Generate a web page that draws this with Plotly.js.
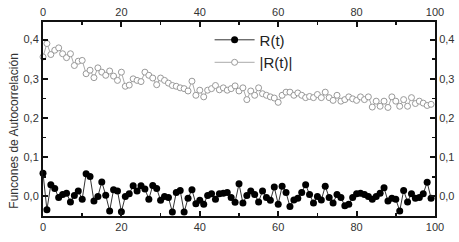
<!DOCTYPE html>
<html>
<head>
<meta charset="utf-8">
<script src="https://cdn.plot.ly/plotly-3.0.1.min.js"></script>
<style>html,body{margin:0;padding:0;background:#fff;}#chart{width:459px;height:242px;}</style>
</head>
<body>
<div id="chart"></div>
<script>
// Lag index t
var lags = [];
for (var i = 0; i < 100; i++) lags.push(i);

// R(t)
var rValues = [
  0.059, -0.034, 0.030, 0.020, -0.003, 0.005, 0.008, -0.014, 0.002, 0.014,
  -0.007, 0.058, 0.051, -0.012, 0.000, 0.037, 0.003, -0.037, 0.017, 0.014,
  -0.039, 0.000, 0.007, 0.027, 0.014, 0.027, 0.019, -0.007, 0.028, 0.020,
  -0.010, 0.000, -0.003, -0.040, 0.010, 0.015, -0.040, -0.005, 0.017, -0.019,
  -0.010, -0.020, 0.002, 0.007, -0.007, 0.007, 0.008, 0.010, -0.003, -0.015,
  0.032, -0.017, 0.002, 0.014, 0.005, -0.014, 0.014, -0.003, -0.010, 0.024,
  -0.020, 0.026, 0.010, -0.026, -0.009, -0.005, 0.010, 0.030, 0.005, -0.017,
  0.000, -0.009, 0.026, -0.003, -0.017, 0.005, -0.003, -0.024, -0.020, -0.003,
  0.007, 0.008, 0.005, 0.000, -0.007, 0.000, 0.008, 0.022, -0.012, -0.005,
  -0.007, -0.037, 0.015, -0.014, 0.007, -0.005, -0.003, 0.007, 0.036, -0.005
];

// |R(t)|
var absRValues = [
  0.356, 0.390, 0.362, 0.373, 0.379, 0.364, 0.354, 0.364, 0.334, 0.345,
  0.347, 0.313, 0.322, 0.303, 0.328, 0.317, 0.309, 0.320, 0.307, 0.296,
  0.317, 0.281, 0.284, 0.300, 0.296, 0.293, 0.317, 0.309, 0.302, 0.285,
  0.302, 0.296, 0.289, 0.283, 0.281, 0.277, 0.275, 0.269, 0.294, 0.258,
  0.271, 0.254, 0.271, 0.275, 0.283, 0.272, 0.277, 0.271, 0.275, 0.282,
  0.269, 0.277, 0.247, 0.269, 0.258, 0.277, 0.262, 0.258, 0.254, 0.251,
  0.240, 0.258, 0.266, 0.266, 0.258, 0.264, 0.258, 0.252, 0.255, 0.252,
  0.260, 0.252, 0.266, 0.252, 0.245, 0.258, 0.243, 0.247, 0.254, 0.249,
  0.245, 0.254, 0.247, 0.254, 0.228, 0.243, 0.230, 0.243, 0.227, 0.254,
  0.243, 0.230, 0.247, 0.230, 0.252, 0.237, 0.243, 0.238, 0.232, 0.235
];

var seriesNames = ['R(t)', '|R(t)|'];
var yTitle = 'Funcones de Autocorrelación';
var xTickVals = [0, 20, 40, 60, 80, 100];
var yTickVals = [0.0, 0.1, 0.2, 0.3, 0.4];

var font = {family: 'Liberation Sans, Arial, sans-serif', size: 11, color: '#333'};

var traces = [
  {
    x: lags, y: rValues, name: seriesNames[0], type: 'scatter', mode: 'lines+markers',
    line: {color: '#333', width: 1},
    marker: {symbol: 'circle', size: 7, color: '#000'},
    cliponaxis: false
  },
  {
    x: lags, y: absRValues, name: seriesNames[1], type: 'scatter', mode: 'lines+markers',
    line: {color: '#aaa', width: 1},
    marker: {symbol: 'circle', size: 6, color: '#fff', line: {color: '#999', width: 1}},
    cliponaxis: false
  }
];

var xr = [0, 100], yr = [-0.05, 0.445];
function xAxis(side, overlay) {
  var a = {
    range: xr, side: side, showline: true, linecolor: '#111', linewidth: 2,
    ticks: 'inside', ticklen: 5, tickwidth: 2, tickcolor: '#111',
    tickvals: xTickVals, showgrid: false, zeroline: false, tickfont: font,
    minor: {tickvals: [10, 30, 50, 70, 90], ticks: 'inside', ticklen: 3, tickwidth: 1.5, tickcolor: '#111', showgrid: false}
  };
  if (overlay) { a.overlaying = 'x'; a.matches = 'x'; }
  return a;
}
function yAxis(side, overlay) {
  var a = {
    range: yr, side: side, showline: true, linecolor: '#111', linewidth: 2,
    ticks: 'inside', ticklen: 5, tickwidth: 2, tickcolor: '#111',
    tickvals: yTickVals, tickformat: '.1f', showgrid: false, zeroline: false, tickfont: font,
    minor: {tickvals: [-0.05, 0.05, 0.15, 0.25, 0.35], ticks: 'inside', ticklen: 3, tickwidth: 1.5, tickcolor: '#111', showgrid: false}
  };
  if (overlay) { a.overlaying = 'y'; a.matches = 'y'; }
  return a;
}

var layout = {
  width: 459, height: 242,
  margin: {l: 43, r: 24, t: 22, b: 26},
  paper_bgcolor: '#fff', plot_bgcolor: '#fff',
  separators: ',.',
  showlegend: true,
  font: font,
  xaxis: xAxis('bottom', false),
  xaxis2: xAxis('top', true),
  yaxis: yAxis('left', false),
  yaxis2: yAxis('right', true),
  annotations: [{
    text: yTitle, xref: 'paper', yref: 'paper', x: -0.074, y: 0.44,
    xanchor: 'center', yanchor: 'middle', textangle: -90, showarrow: false,
    font: {family: 'Liberation Sans, Arial, sans-serif', size: 12, color: '#333'}
  }],
  legend: {
    x: 0.425, y: 0.992, xanchor: 'left', yanchor: 'top',
    bgcolor: 'rgba(0,0,0,0)', borderwidth: 0,
    font: {family: 'Liberation Sans, Arial, sans-serif', size: 15, color: '#222'},
    itemwidth: 40
  }
};

// invisible helper trace so overlay axes render
traces.push({x: [lags[0]], y: [rValues[0]], xaxis: 'x2', yaxis: 'y2', mode: 'markers', marker: {opacity: 0}, showlegend: false, hoverinfo: 'skip'});

Plotly.newPlot('chart', traces, layout, {staticPlot: true, displayModeBar: false});
</script>
</body>
</html>
